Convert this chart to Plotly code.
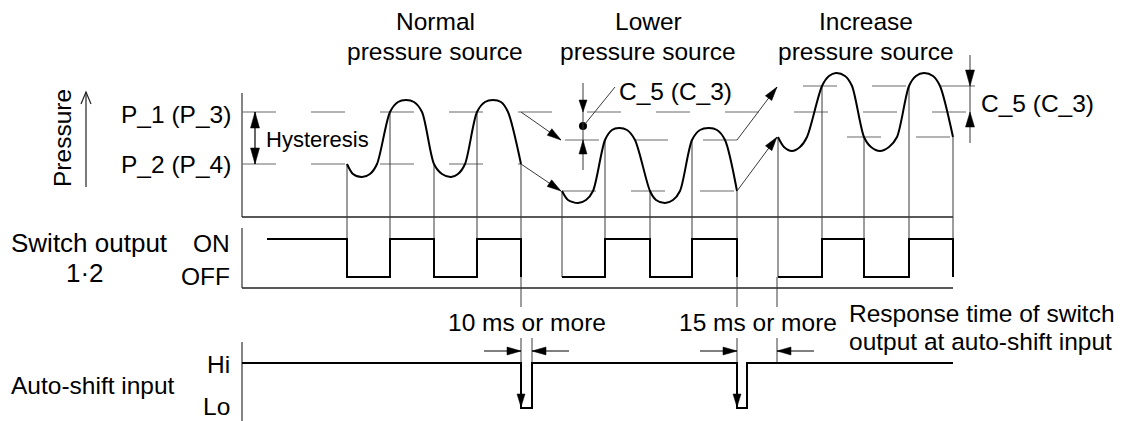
import plotly.graph_objects as go

# Canvas in diagram units: x runs left->right, y runs top->bottom.
W, H = 1129, 421
FONT = "Liberation Sans, Arial, sans-serif"

# ---------------- data ----------------
# Pressure waveform for each source (time, level), traced through the
# threshold crossings, the rounded crests and the troughs.
normal_t = [347, 353, 362, 370, 377, 390, 398, 406, 414, 422, 434, 442, 451, 458, 465,
            477, 485, 493, 501, 508, 521]
normal_p = [164, 174, 177, 174, 164, 112, 102, 100, 102, 112, 164, 174, 177, 174, 164,
            112, 102, 100, 102, 112, 164]
lower_t = [562, 568, 578, 586, 593, 605, 612, 619, 627, 635, 650, 656, 665, 673, 680,
           692, 700, 709, 717, 725, 737]
lower_p = [191, 200, 203, 200, 191, 140, 130, 128, 130, 140, 191, 200, 203, 200, 191,
           140, 130, 128, 130, 140, 191]
increase_t = [778, 784, 792, 800, 807, 822, 829, 836, 845, 852, 864, 871, 880, 889, 897,
              909, 916, 924, 933, 940, 953]
increase_p = [137, 147, 151, 147, 137, 86, 76, 73, 76, 86, 137, 147, 151, 147, 137,
              86, 76, 73, 76, 86, 137]

# Threshold crossings (time, level) that switch the output
normal_cross_t = [347, 390, 434, 477, 521]
normal_cross_p = [164, 112, 164, 112, 164]
lower_cross_t = [562, 605, 650, 692, 737]
lower_cross_p = [191, 140, 191, 140, 191]
increase_cross_t = [778, 822, 864, 909, 953]
increase_cross_p = [137, 86, 137, 86, 137]

# Set points (P_1 / P_2) of the normal, lower and increased source
p1_levels = [112, 140, 86]
p2_levels = [164, 191, 137]
p1_spans = [(242, 968), (565, 737), (803, 977)]
p2_spans = [(242, 521), (562, 737), (847, 950)]

# Switch output 1·2 (state held after each time)
sw_normal_t = [267, 347, 390, 434, 477, 521]
sw_normal_s = ["ON", "OFF", "ON", "OFF", "ON", "OFF"]
sw_lower_t = [562, 605, 650, 692, 737]
sw_lower_s = ["OFF", "ON", "OFF", "ON", "OFF"]
sw_increase_t = [778, 822, 864, 909, 953]
sw_increase_s = ["OFF", "ON", "OFF", "ON", "OFF"]

# Auto-shift input
shift_t = [242, 521, 532, 737, 747, 953]
shift_s = ["Hi", "Lo", "Hi", "Lo", "Hi", "Hi"]
response_end = 777  # end of the "15 ms or more" window

# ---------------- layout constants ----------------
SW_Y = {"ON": 239, "OFF": 277}
SHIFT_Y = {"Hi": 363, "Lo": 408}
X_AXIS = 242
P_BASE, SW_BASE = 217, 288
P_TOP, SW_TOP, SH_TOP = 93, 228, 342
END_X = 953
TEXT_GAP = (307, 338)
DIM_Y = 351

GUIDE = "#3a3a3a"
DASH = "#6a6a6a"

fig = go.Figure()
shapes = []


def seg(x0, y0, x1, y1, color=GUIDE, width=1, dash=None, layer="below"):
    line = dict(color=color, width=width)
    if dash:
        line["dash"] = dash
    shapes.append(dict(type="line", x0=x0, y0=y0, x1=x1, y1=y1, xref="x", yref="y",
                       line=line, layer=layer))


def head(tip, tail, length=14, width=8, color="black"):
    tx, ty = tip
    dx, dy = tx - tail[0], ty - tail[1]
    n = (dx * dx + dy * dy) ** 0.5
    ux, uy = dx / n, dy / n
    bx, by = tx - ux * length, ty - uy * length
    ox, oy = -uy * width / 2, ux * width / 2
    path = f"M{tx},{ty} L{bx + ox},{by + oy} L{bx - ox},{by - oy} Z"
    shapes.append(dict(type="path", path=path, xref="x", yref="y", fillcolor=color,
                       line=dict(color=color, width=0.5), layer="above"))


def arrow(tail, tip, color=GUIDE, width=1, **kw):
    seg(tail[0], tail[1], tip[0], tip[1], color=color, width=width, layer="above")
    head(tip, tail, **kw)


# panel axes and baselines
seg(X_AXIS, P_TOP, X_AXIS, P_BASE, color="#333", width=1.2)
seg(X_AXIS, P_BASE, END_X, P_BASE, color="#222", width=1.5)
seg(X_AXIS, SW_TOP, X_AXIS, SW_BASE, color="#333", width=1.2)
seg(X_AXIS, SW_BASE, END_X, SW_BASE, color="#222", width=1.5)
seg(X_AXIS, SH_TOP, X_AXIS, H, color="#333", width=1.2)

# dashed set-point lines
for lvl, (a, b) in zip(p1_levels + p2_levels, p1_spans + p2_spans):
    seg(a, lvl, b, lvl, color=DASH, width=1.2, dash="34px,35px")

# vertical guides from each crossing down to the switch output
for cts, cps, sw_t, sw_s in [(normal_cross_t, normal_cross_p, sw_normal_t, sw_normal_s),
                             (lower_cross_t, lower_cross_p, sw_lower_t, sw_lower_s),
                             (increase_cross_t, increase_cross_p, sw_increase_t, sw_increase_s)]:
    for t, p in zip(cts, cps):
        i = sw_t.index(t)
        # an edge starts at ON level; a trace that begins at OFF needs a guide down to OFF
        stop = SW_Y["ON"] if i > 0 else SW_Y[sw_s[0]]
        seg(t, p, t, stop)

# guides continuing into the auto-shift timing
for t in [shift_t[1], shift_t[3], response_end]:
    seg(t, SW_Y["OFF"], t, TEXT_GAP[0])
for t in [shift_t[1], shift_t[2], shift_t[3], response_end]:
    seg(t, TEXT_GAP[1], t, SHIFT_Y["Hi"])

# pressure curves
for ts, ps in [(normal_t, normal_p), (lower_t, lower_p), (increase_t, increase_p)]:
    fig.add_trace(go.Scatter(x=ts, y=ps, mode="lines",
                             line=dict(color="black", width=2, shape="spline", smoothing=0.8),
                             hoverinfo="skip"))

# switch output
for ts, ss in [(sw_normal_t, sw_normal_s), (sw_lower_t, sw_lower_s), (sw_increase_t, sw_increase_s)]:
    fig.add_trace(go.Scatter(x=ts, y=[SW_Y[s] for s in ss], mode="lines",
                             line=dict(color="black", width=2, shape="hv"), hoverinfo="skip"))

# auto-shift input
fig.add_trace(go.Scatter(x=shift_t, y=[SHIFT_Y[s] for s in shift_s], mode="lines",
                         line=dict(color="black", width=2, shape="hv"), hoverinfo="skip"))
for t in [shift_t[1], shift_t[3]]:
    head((t, SHIFT_Y["Lo"] - 1), (t, SHIFT_Y["Hi"]), length=13, width=8)

# arrows linking set points between sources
arrow((normal_cross_t[-1], p1_levels[0]), (lower_cross_t[0] - 1, p1_levels[1]))
arrow((normal_cross_t[-1], p2_levels[0]), (lower_cross_t[0] - 1, p2_levels[1]))
arrow((lower_cross_t[-1], p1_levels[1]), (increase_cross_t[0] - 1, p1_levels[2] + 1))
arrow((lower_cross_t[-1], p2_levels[1]), (increase_cross_t[0] - 1, p2_levels[2]))

# hysteresis
seg(255, p1_levels[0], 255, p2_levels[0], color="black", width=1.2, layer="above")
head((255, p1_levels[0]), (255, p2_levels[0]), length=16, width=9)
head((255, p2_levels[0]), (255, p1_levels[0]), length=16, width=9)

# pressure axis arrow
seg(86, 187, 86, 92, color="#222", width=1.2, layer="above")
shapes.append(dict(type="path", path="M81,104 L86,92 L91,104", xref="x", yref="y",
                   line=dict(color="#222", width=1.2)))

# C_5 (C_3) shift marker, lower source
cx = 583
seg(cx, 83, cx, 170, color=GUIDE, width=1, layer="above")
head((cx, p1_levels[0]), (cx, 80), length=12, width=8)
head((cx, p1_levels[1]), (cx, 175), length=14, width=8)
seg(cx + 2, 124, 615, 87, color=GUIDE, width=1, layer="above")
fig.add_trace(go.Scatter(x=[cx], y=[(p1_levels[0] + p1_levels[1]) / 2], mode="markers",
                         marker=dict(color="black", size=8), hoverinfo="skip"))

# C_5 (C_3) shift marker, increased source
rx = 970
seg(rx, 55, rx, 143, color=GUIDE, width=1, layer="above")
head((rx, p1_levels[2]), (rx, 50), length=16, width=9)
head((rx, p1_levels[0]), (rx, 150), length=15, width=9)

# timing dimensions
arrow((484, DIM_Y), (shift_t[1], DIM_Y), color="black")
arrow((569, DIM_Y), (shift_t[2], DIM_Y), color="black")
arrow((700, DIM_Y), (shift_t[3], DIM_Y), color="black")
arrow((814, DIM_Y), (response_end, DIM_Y), color="black")

# ---------------- text ----------------
ann = []


def label(text, x, baseline, xanchor="center", size=24.5, angle=0):
    # place by text baseline (Liberation Sans: ascent 0.905, descent 0.212)
    y = baseline if angle else baseline - (0.905 - 1.117 / 2) * size
    ann.append(dict(text=text, x=x, y=y, xref="x", yref="y", xanchor=xanchor,
                    yanchor="middle", showarrow=False, textangle=angle,
                    font=dict(size=size, color="black", family=FONT)))


label("Normal", 435, 30)
label("pressure source", 435, 60)
label("Lower", 648, 30)
label("pressure source", 648, 60)
label("Increase", 866, 30)
label("pressure source", 866, 60)
label("C_5 (C_3)", 617, 100, xanchor="left")
label("C_5 (C_3)", 979, 112, xanchor="left")
label("P_1 (P_3)", 233, 123, xanchor="right")
label("P_2 (P_4)", 233, 173, xanchor="right")
label("Hysteresis", 264, 147, xanchor="left", size=22)
label("Pressure", 62, 138, angle=-90)
label("Switch output", 89, 252, size=26)
label("1·2", 85, 282, size=26)
label("ON", 232, 252, xanchor="right")
label("OFF", 232, 285, xanchor="right")
label("Hi", 232, 373, xanchor="right")
label("Lo", 232, 415, xanchor="right")
label("Auto-shift input", 9, 394, xanchor="left")
label("10 ms or more", 527, 331)
label("15 ms or more", 758, 331)
label("Response time of switch", 847, 322, xanchor="left")
label("output at auto-shift input", 847, 350, xanchor="left")

fig.update_layout(
    width=W, height=H, margin=dict(l=0, r=0, t=0, b=0),
    paper_bgcolor="white", plot_bgcolor="white", showlegend=False,
    xaxis=dict(range=[0, W], visible=False, fixedrange=True),
    yaxis=dict(range=[H, 0], visible=False, fixedrange=True),
    shapes=shapes, annotations=ann,
)

fig.write_html("out.html", config={"displayModeBar": False},
               post_script="document.body.style.margin='0';")
